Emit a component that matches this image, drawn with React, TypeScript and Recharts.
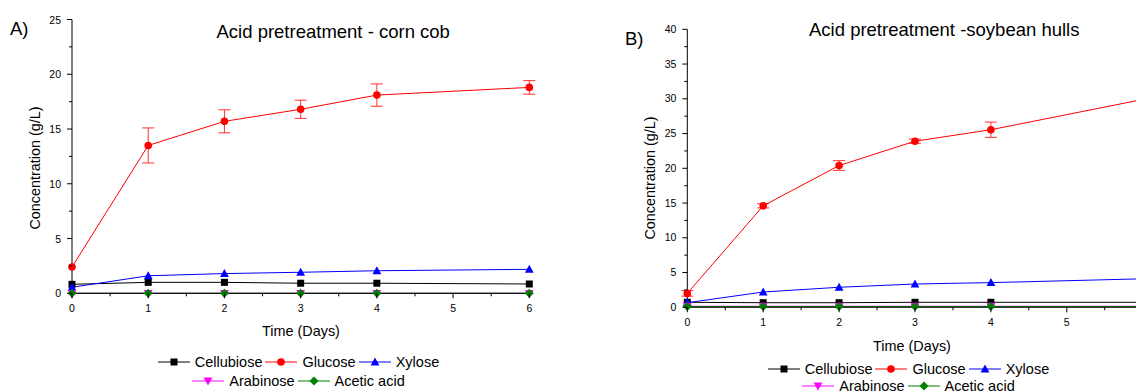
import React from "react";
import { LineChart, Line, XAxis, YAxis, ErrorBar } from "recharts";

const days = [0, 1, 2, 3, 4, 6];

const seriesNames = ["Cellubiose", "Glucose", "Xylose", "Arabinose", "Acetic acid"];
const seriesColors = ["#000000", "#ff0000", "#0000ff", "#ff00ff", "#008000"];
const seriesShapes = ["square", "circle", "triangle", "triangleDown", "diamond"];

// A) corn cob
const cornCellubiose = [0.82, 1.0, 1.0, 0.92, 0.92, 0.85];
const cornGlucose = [2.4, 13.5, 15.7, 16.8, 18.1, 18.8];
const cornGlucoseErr = [0, 1.6, 1.05, 0.83, 1.02, 0.62];
const cornXylose = [0.55, 1.6, 1.8, 1.92, 2.06, 2.19];
const cornArabinose = [0, 0, 0, 0, 0, 0];
const cornAcetic = [0, 0, 0, 0, 0, 0];

// B) soybean hulls
const soyCellubiose = [0.72, 0.66, 0.66, 0.72, 0.72, 0.72];
const soyGlucose = [2.0, 14.6, 20.4, 23.9, 25.55, 29.9];
const soyGlucoseErr = [0.4, 0.3, 0.7, 0.3, 1.1, 0.8];
const soyXylose = [0.66, 2.2, 2.88, 3.35, 3.55, 4.1];
const soyArabinose = [0.15, 0.15, 0.15, 0.15, 0.15, 0.15];
const soyAcetic = [0.1, 0.1, 0.1, 0.1, 0.1, 0.1];

const xTicks = [0, 0.5, 1, 1.5, 2, 2.5, 3, 3.5, 4, 4.5, 5, 5.5, 6];
const cornYTicks = [0, 2.5, 5, 7.5, 10, 12.5, 15, 17.5, 20, 22.5, 25];
const soyYTicks = [0, 2.5, 5, 7.5, 10, 12.5, 15, 17.5, 20, 22.5, 25, 27.5, 30, 32.5, 35, 37.5, 40];

const FONT = '"Liberation Sans", Arial, sans-serif';

function buildRows(cols: number[][], err: number[]) {
  return days.map((d, i) => {
    const row: Record<string, number> = { day: d, err: err[i] };
    cols.forEach((c, k) => (row["s" + k] = c[i]));
    return row;
  });
}

const cornRows = buildRows(
  [cornCellubiose, cornGlucose, cornXylose, cornArabinose, cornAcetic],
  cornGlucoseErr
);
const soyRows = buildRows(
  [soyCellubiose, soyGlucose, soyXylose, soyArabinose, soyAcetic],
  soyGlucoseErr
);

function markerShape(shape: string, cx: number, cy: number, color: string, key?: any) {
  switch (shape) {
    case "square":
      return <rect key={key} x={cx - 3.5} y={cy - 3.5} width={7} height={7} fill={color} />;
    case "circle":
      return <circle key={key} cx={cx} cy={cy} r={3.8} fill={color} />;
    case "triangle":
      return (
        <polygon
          key={key}
          points={`${cx},${cy - 4.6} ${cx + 4.4},${cy + 3.4} ${cx - 4.4},${cy + 3.4}`}
          fill={color}
        />
      );
    case "triangleDown":
      return (
        <polygon
          key={key}
          points={`${cx},${cy + 4.6} ${cx + 4.4},${cy - 3.4} ${cx - 4.4},${cy - 3.4}`}
          fill={color}
        />
      );
    default:
      return (
        <polygon
          key={key}
          points={`${cx},${cy - 4.5} ${cx + 4.5},${cy} ${cx},${cy + 4.5} ${cx - 4.5},${cy}`}
          fill={color}
        />
      );
  }
}

function XTick(props: any) {
  const { x, y, payload } = props;
  const major = Number.isInteger(payload.value);
  return (
    <g>
      <line x1={x} x2={x} y1={y} y2={y + (major ? 5 : 3)} stroke="#000" />
      {major && (
        <text x={x} y={y + 15} textAnchor="middle" dominantBaseline="central" fontSize={10.5} fill="#000">
          {payload.value}
        </text>
      )}
    </g>
  );
}

function YTick(props: any) {
  const { x, y, payload } = props;
  const major = payload.value % 5 === 0;
  return (
    <g>
      <line x1={x} x2={x - (major ? 5 : 3)} y1={y} y2={y} stroke="#000" />
      {major && (
        <text x={x - 11} y={y} textAnchor="end" dominantBaseline="central" fontSize={10.5} fill="#000">
          {payload.value}
        </text>
      )}
    </g>
  );
}

function Panel({ rows, yMax, yTicks, width, height, yAxisWidth, top, right, xAxisHeight }: any) {
  return (
    <LineChart width={width} height={height} data={rows} margin={{ top, right, left: 0, bottom: 0 }}>
      <XAxis
        dataKey="day"
        type="number"
        domain={[0, 6]}
        ticks={xTicks}
        interval={0}
        height={xAxisHeight}
        tickSize={0}
        tickMargin={0}
        tickLine={false}
        axisLine={{ stroke: "#000" }}
        tick={XTick}
      />
      <YAxis
        type="number"
        domain={[0, yMax]}
        ticks={yTicks}
        interval={0}
        width={yAxisWidth}
        tickSize={0}
        tickMargin={0}
        tickLine={false}
        axisLine={{ stroke: "#000" }}
        tick={YTick}
      />
      {seriesNames.map((name, k) => (
        <Line
          key={name}
          dataKey={"s" + k}
          name={name}
          stroke={seriesColors[k]}
          strokeWidth={1}
          isAnimationActive={false}
          dot={(p: any) => markerShape(seriesShapes[k], p.cx, p.cy, seriesColors[k], p.index)}
          activeDot={false}
        >
          {k === 1 && <ErrorBar dataKey="err" width={6} stroke="#ff3030" strokeWidth={1} direction="y" />}
        </Line>
      ))}
    </LineChart>
  );
}

function LegendItem({ k }: { k: number }) {
  return (
    <div style={{ display: "flex", alignItems: "center", marginRight: 3 }}>
      <svg width={32} height={12} style={{ marginRight: 5 }}>
        <line x1={0} x2={32} y1={6} y2={6} stroke={seriesColors[k]} strokeWidth={1} />
        {markerShape(seriesShapes[k], 16, 6, seriesColors[k])}
      </svg>
      <span>{seriesNames[k]}</span>
    </div>
  );
}

function Legend({ cx, y1, y2 }: { cx: number; y1: number; y2: number }) {
  const row = (items: number[], y: number) => (
    <div
      style={{
        position: "absolute",
        left: cx - 250,
        width: 500,
        top: y - 9,
        height: 18,
        display: "flex",
        justifyContent: "center",
        alignItems: "center",
        fontSize: 14.5,
        lineHeight: "18px",
      }}
    >
      {items.map((k) => (
        <LegendItem key={k} k={k} />
      ))}
    </div>
  );
  return (
    <>
      {row([0, 1, 2], y1)}
      {row([3, 4], y2)}
    </>
  );
}

export default function App() {
  return (
    <div
      style={{
        position: "fixed",
        left: 0,
        top: 0,
        width: 1136,
        height: 392,
        overflow: "hidden",
        background: "#fff",
        fontFamily: FONT,
        color: "#000",
      }}
    >
      <div style={{ position: "absolute", left: 0, top: 0 }}>
        <Panel
          rows={cornRows}
          yMax={25}
          yTicks={cornYTicks}
          width={560}
          height={320}
          yAxisWidth={72}
          top={19.5}
          right={30.7}
          xAxisHeight={26.7}
        />
      </div>
      <div style={{ position: "absolute", left: 600, top: 0 }}>
        <Panel
          rows={soyRows}
          yMax={40}
          yTicks={soyYTicks}
          width={552.7}
          height={327.3}
          yAxisWidth={87.3}
          top={29.3}
          right={10}
          xAxisHeight={20}
        />
      </div>
      <svg
        width={1136}
        height={392}
        style={{ position: "absolute", left: 0, top: 0, pointerEvents: "none" }}
      >
        <text x={10} y={28} fontSize={18.5} dominantBaseline="central">A)</text>
        <text x={216.5} y={31} fontSize={18.5} dominantBaseline="central">
          Acid pretreatment - corn cob
        </text>
        <text x={625} y={38} fontSize={18.5} dominantBaseline="central">B)</text>
        <text x={809} y={29} fontSize={18.5} dominantBaseline="central">
          Acid pretreatment -soybean hulls
        </text>
        <text
          x={35}
          y={168}
          fontSize={14.4}
          textAnchor="middle"
          dominantBaseline="central"
          transform="rotate(-90 35 168)"
        >
          Concentration (g/L)
        </text>
        <text
          x={650}
          y={178}
          fontSize={14.4}
          textAnchor="middle"
          dominantBaseline="central"
          transform="rotate(-90 650 178)"
        >
          Concentration (g/L)
        </text>
        <text x={301} y={331} fontSize={14.4} textAnchor="middle" dominantBaseline="central">
          Time (Days)
        </text>
        <text x={912} y={346} fontSize={14.4} textAnchor="middle" dominantBaseline="central">
          Time (Days)
        </text>
      </svg>
      <Legend cx={300} y1={362} y2={381} />
      <Legend cx={910} y1={368.5} y2={386} />
    </div>
  );
}
